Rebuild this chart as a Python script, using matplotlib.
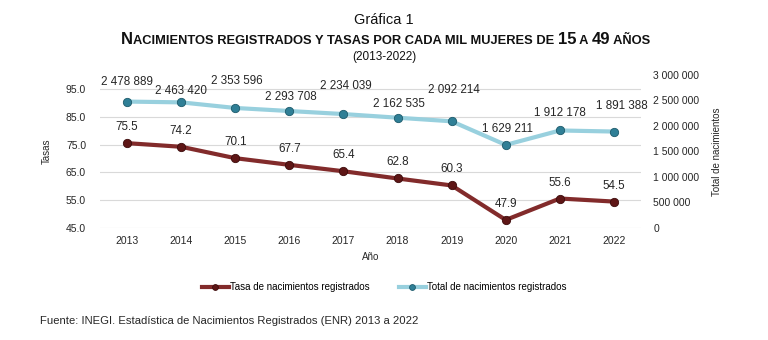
import matplotlib
matplotlib.use("Agg")
import matplotlib.pyplot as plt
from matplotlib import font_manager
from matplotlib.offsetbox import TextArea, HPacker, AnchoredOffsetbox
from matplotlib.ticker import FuncFormatter

years = ["2013", "2014", "2015", "2016", "2017", "2018", "2019", "2020", "2021", "2022"]
tasa = [75.5, 74.2, 70.1, 67.7, 65.4, 62.8, 60.3, 47.9, 55.6, 54.5]
total = [2478889, 2463420, 2353596, 2293708, 2234039, 2162535, 2092214, 1629211, 1912178, 1891388]

RED = "#822b2b"
RED_MK = "#5e1616"
BLUE = "#98d0de"
BLUE_MK = "#2f7f96"
GRID = "#d9d9d9"
TXT = "#262626"

names = {f.name for f in font_manager.fontManager.ttflist}
NARROW = "Liberation Sans Narrow" if "Liberation Sans Narrow" in names else "Liberation Sans"
plt.rcParams["font.family"] = ["Liberation Sans", "DejaVu Sans"]


def spaced(v, _=None):
    return f"{int(v):,}".replace(",", " ")


# label offsets in pixels (dx, dy), as placed in the original
blue_off = [(0, 20), (0, 11), (2, 27), (2, 14), (2, 28), (1, 14), (2, 31), (2, 16), (0, 17), (8, 26)]

fig = plt.figure(figsize=(7.68, 3.4), dpi=100)
ax = fig.add_axes([100 / 768, 1 - 228 / 340, 541 / 768, 153 / 340])
ax2 = ax.twinx()

x = range(len(years))
ax.plot(x, tasa, color=RED, lw=3, marker="o", ms=6, mfc=RED_MK, mec="#3d0c0c",
        mew=0.6, label="Tasa de nacimientos registrados", zorder=3)
ax2.plot(x, total, color=BLUE, lw=3, marker="o", ms=6, mfc=BLUE_MK, mec="#1d5a6b",
         mew=0.6, label="Total de nacimientos registrados", zorder=3)

for i, v in enumerate(tasa):
    ax.annotate(f"{v:.1f}", (i, v), xytext=(0, 16), textcoords="offset pixels",
                ha="center", va="center", fontsize=8.4, color=TXT)
for i, v in enumerate(total):
    ax2.annotate(spaced(v), (i, v), xytext=blue_off[i], textcoords="offset pixels",
                 ha="center", va="center", fontsize=8.4, color=TXT)

ax.set_xlim(-0.5, len(years) - 0.5)
ax.set_ylim(45, 100)
ax.set_yticks([45, 55, 65, 75, 85, 95])
ax.yaxis.set_major_formatter(FuncFormatter(lambda v, _: f"{v:.1f}"))
ax.set_xticks(list(x))
ax.set_xticklabels(years)
ax2.set_ylim(0, 3000000)
ax2.set_yticks(range(0, 3000001, 500000))
ax2.yaxis.set_major_formatter(FuncFormatter(spaced))

ax.grid(axis="y", color=GRID, lw=0.8)
ax.set_axisbelow(True)
for a in (ax, ax2):
    for s in a.spines.values():
        s.set_visible(False)
    a.tick_params(length=0, labelsize=7.5, colors=TXT)
ax.tick_params(axis="y", pad=10)
ax.tick_params(axis="x", pad=6)
ax2.tick_params(axis="y", pad=9)

ax.set_ylabel("Tasas", fontsize=7, color=TXT, labelpad=10)
ax2.set_ylabel("Total de nacimientos", fontsize=7, color=TXT, labelpad=9)
ax.set_xlabel("Año", fontsize=7, color=TXT, labelpad=4)

h1, l1 = ax.get_legend_handles_labels()
h2, l2 = ax2.get_legend_handles_labels()
fig.legend(h1 + h2, l1 + l2, loc="center", bbox_to_anchor=(0.5, 1 - 287 / 340),
           ncol=2, frameon=False, fontsize=7, handlelength=2.8, handletextpad=0.1,
           columnspacing=3, markerscale=0.7)

fig.text(0.5, 1 - 20 / 340, "Gráfica 1", ha="center", va="center",
         fontsize=10.5, family=NARROW, color="#111111")
fig.text(0.5, 1 - 57 / 340, "(2013-2022)", ha="center", va="center",
         fontsize=8.5, family=NARROW, color="#111111")

pieces = [("N", 12), ("ACIMIENTOS REGISTRADOS Y TASAS POR CADA MIL MUJERES DE ", 9.3),
          ("15", 12), (" A ", 9.3), ("49", 12), (" AÑOS", 9.3)]
areas = [TextArea(t, textprops=dict(fontsize=s, fontweight="bold", family=NARROW,
                                    color="#111111")) for t, s in pieces]
title = AnchoredOffsetbox(loc="center", child=HPacker(children=areas, align="baseline",
                                                      pad=0, sep=0),
                          bbox_to_anchor=(0.502, 1 - 40 / 340),
                          bbox_transform=fig.transFigure, frameon=False, pad=0, borderpad=0)
fig.add_artist(title)

fig.text(40 / 768, 1 - 321 / 340,
         "Fuente: INEGI. Estadística de Nacimientos Registrados (ENR) 2013 a 2022",
         ha="left", va="center", fontsize=8.1, color=TXT)

fig.savefig("out.png", dpi=100)
